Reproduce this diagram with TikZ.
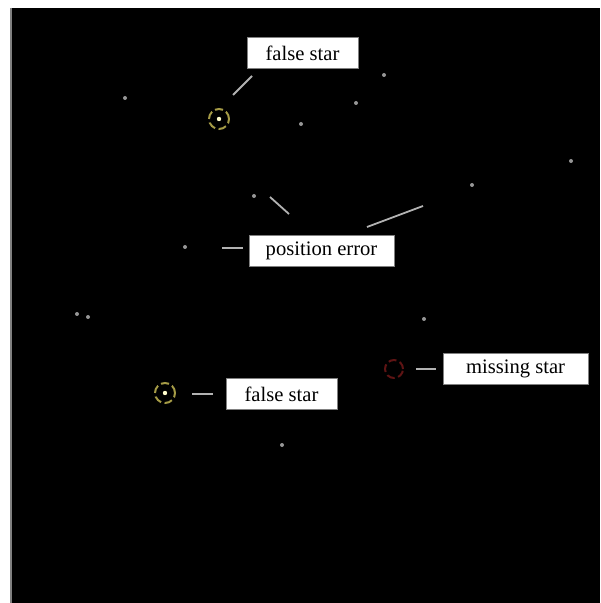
\documentclass[tikz,border=0pt]{standalone}
\usepackage{fontspec}
\setmainfont{Liberation Serif}
\usetikzlibrary{positioning}
\definecolor{falseyellow}{RGB}{165,155,70}
\definecolor{missred}{RGB}{95,20,20}
\definecolor{dotgray}{RGB}{150,150,150}

\begin{document}
\begin{tikzpicture}[x=0.5pt, y=-0.5pt,
  labelbox/.style={draw=gray, fill=white, line width=0.5pt, minimum height=15.5pt,
    inner sep=0pt, font=\fontsize{10.3}{12}\selectfont},
  pointer/.style={draw=gray!60!white, line width=0.9pt},
  ringmark/.style={circle, draw, dash pattern=on 4pt off 1.8pt, line width=1pt,
    minimum size=10pt, inner sep=0pt},
  stardot/.style={circle, fill=dotgray, minimum size=2pt, inner sep=0pt}]

  % sky frame
  \useasboundingbox (0,0) rectangle (600,603);
  \fill[black] (12,8) rectangle (600,603);
  \draw[gray, line width=0.8pt] (11,8) -- (11,603);

  % stars
  \foreach \x/\y [count=\i] in {125/98, 384/75, 356/103, 301/124, 571/161, 472/185,
      254/196, 185/247, 77/314, 88/317, 424/319, 282/445} {
    \node[stardot] (s\i) at (\x,\y) {};
  }

  % marked stars
  \node[ringmark, draw=falseyellow] (fs1) at (219,119) {};
  \node[ringmark, draw=falseyellow] (fs2) at (165,393) {};
  \node[ringmark, draw=missred, minimum size=9pt] (ms) at (394,369) {};
  \node[stardot, fill=yellow!20!white, minimum size=2.2pt] at (fs1) {};
  \node[stardot, fill=yellow!20!white, minimum size=2.2pt] at (fs2) {};

  % labels
  \node[labelbox, minimum width=55.5pt] (topbox) at (302.5,53) {false star};
  \node[labelbox, minimum width=72.5pt] (errbox) at (321.5,251) {position error};
  \node[labelbox, minimum width=72.5pt] (missbox) at (515.5,369) {missing star};
  \node[labelbox, minimum width=55.5pt] (lowbox) at (281.5,394) {false star};

  % pointer ends
  \coordinate (t1) at (233,95);   \coordinate (t2) at (252,76);
  \coordinate (e1) at (270,197);  \coordinate (e2) at (289,214);
  \coordinate (e3) at (423,206);  \coordinate (e4) at (367,227);
  \coordinate (e5) at (222,248);  \coordinate (e6) at (243,248);
  \coordinate (m1) at (416,369);  \coordinate (m2) at (436,369);
  \coordinate (l1) at (192,394);  \coordinate (l2) at (213,394);

  \draw[pointer] (t1) -- (t2);
  \draw[pointer] (e1) -- (e2);
  \draw[pointer] (e3) -- (e4);
  \draw[pointer] (e5) -- (e6);
  \draw[pointer] (m1) -- (m2);
  \draw[pointer] (l1) -- (l2);
\end{tikzpicture}
\end{document}
